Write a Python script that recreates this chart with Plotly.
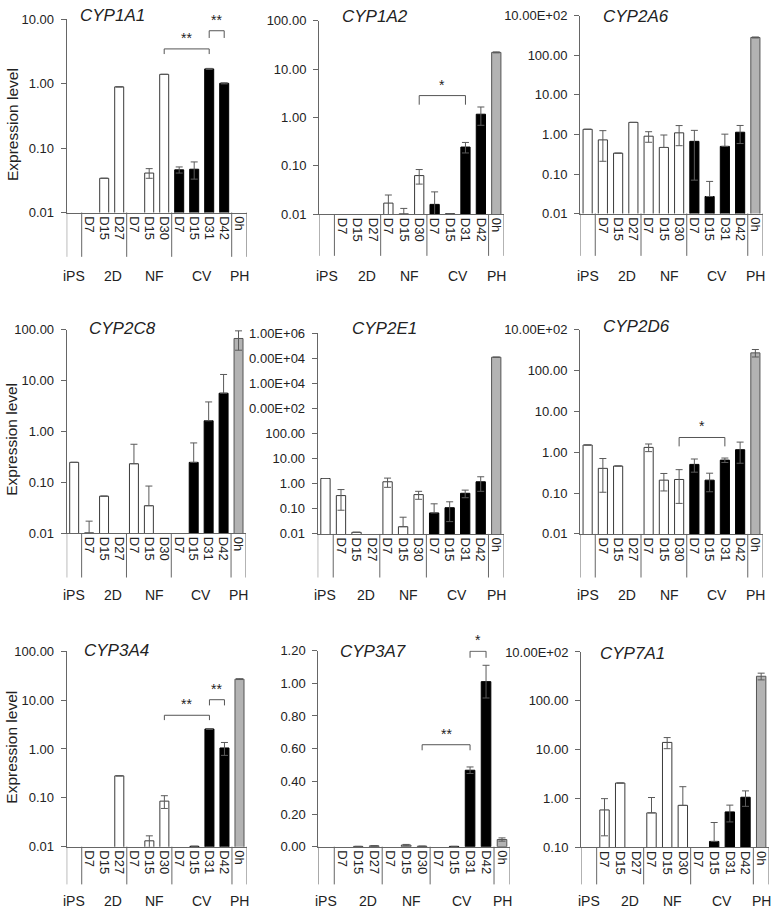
import math
import plotly.graph_objects as go

W, H = 772, 916

# ---------------- data ----------------
TICK_TEXT = ["", "D7", "D15", "D27", "D7", "D15", "D30", "D7", "D15", "D31", "D42", "0h"]
GROUP_OF_SLOT = ["iPS", "2D", "2D", "2D", "NF", "NF", "NF", "CV", "CV", "CV", "CV", "PH"]
GROUPS = ["iPS", "2D", "NF", "CV", "PH"]
GENES = ["CYP1A1", "CYP1A2", "CYP2A6", "CYP2C8", "CYP2E1", "CYP2D6", "CYP3A4", "CYP3A7", "CYP7A1"]

CYP1A1 = [None, None, 0.034, 0.89, None, 0.041, 1.39, 0.046, 0.047, 1.69, 1.01, None]
CYP1A1_SD = [0, 0, 0, 0, 0, 0.007, 0, 0.005, 0.014, 0.03, 0.02, 0]
CYP1A2 = [None, None, None, None, 0.017, 0.0102, 0.063, 0.016, 0.0102, 0.245, 1.17, 22.2]
CYP1A2_SD = [0, 0, 0, 0, 0.008, 0.003, 0.021, 0.013, 0, 0.06, 0.48, 0.5]
CYP2A6 = [1.35, 0.73, 0.336, 2.02, 0.905, 0.47, 1.1, 0.67, 0.027, 0.50, 1.14, 284]
CYP2A6_SD = [0, 0.52, 0, 0, 0.27, 0.5, 0.58, 0.6, 0.038, 0.52, 0.55, 8]
CYP2C8 = [0.248, 0.0102, 0.0536, None, 0.233, 0.0348, None, None, 0.248, 1.63, 5.69, 67.9]
CYP2C8_SD = [0, 0.0071, 0, 0, 0.33, 0.05, 0, 0, 0.35, 2.2, 7.6, 28]
CYP2E1 = [1.62, 0.338, 0.0116, None, 1.20, 0.0194, 0.37, 0.0687, 0.111, 0.418, 1.20, 111000]
CYP2E1_SD = [0, 0.25, 0, 0, 0.48, 0.027, 0.13, 0.09, 0.08, 0.14, 0.7, 0]
CYP2D6 = [1.51, 0.405, 0.461, None, 1.32, 0.208, 0.216, 0.506, 0.208, 0.644, 1.16, 274]
CYP2D6_SD = [0, 0.3, 0, 0, 0.28, 0.095, 0.16, 0.18, 0.1, 0.08, 0.62, 57]
CYP3A4 = [None, None, None, 0.282, None, 0.0132, 0.0857, None, 0.0102, 2.57, 1.05, 26.9]
CYP3A4_SD = [0, 0, 0, 0, 0, 0.0035, 0.025, 0, 0, 0.05, 0.31, 0.5]
CYP3A7 = [None, None, 0.002, 0.005, None, 0.01, 0.003, None, 0.002, 0.468, 1.01, 0.044]
CYP3A7_SD = [0, 0, 0, 0.002, 0, 0.004, 0, 0, 0, 0.02, 0.1, 0.01]
CYP7A1 = [None, 0.582, 2.07, None, 0.507, 14.06, 0.723, None, 0.132, 0.531, 1.06, 318]
CYP7A1_SD = [0, 0.41, 0, 0, 0.54, 3.6, 1.02, 0, 0.19, 0.2, 0.37, 50]

VALUES = [CYP1A1, CYP1A2, CYP2A6, CYP2C8, CYP2E1, CYP2D6, CYP3A4, CYP3A7, CYP7A1]
SDS = [CYP1A1_SD, CYP1A2_SD, CYP2A6_SD, CYP2C8_SD, CYP2E1_SD, CYP2D6_SD, CYP3A4_SD, CYP3A7_SD, CYP7A1_SD]

LOG_TICKS = [0.01, 0.1, 1, 10, 100, 1000, 1e4, 1e5, 1e6]
LOG_TEXT = ["0.01", "0.10", "1.00", "10.00", "100.00", "10.00E+02"]
E1_TEXT = ["0.01", "0.10", "1.00", "10.00", "100.00", "0.00E+02", "1.00E+04", "0.00E+04", "1.00E+06"]
LIN_TICKS = [0, 0.2, 0.4, 0.6, 0.8, 1.0, 1.2]
LIN_TEXT = ["0.00", "0.20", "0.40", "0.60", "0.80", "1.00", "1.20"]
# y-axis: (type, min, max) in decades for log
Y_SCALES = [("log", -2, 1), ("log", -2, 2), ("log", -2, 3),
            ("log", -2, 2), ("log", -2, 6), ("log", -2, 3),
            ("log", -2, 2), ("linear", 0, 1.2), ("log", -1, 3)]

# significance brackets: (panel, from slot, to slot, top value, leg value, label)
BRACKETS = [
    (0, 6, 9, 3.45, 2.87, "**"),
    (0, 9, 10, 6.6, 5.1, "**"),
    (1, 6, 9, 2.84, 1.84, "*"),
    (5, 6, 9, 2.31, 1.40, "*"),
    (6, 6, 9, 4.9, 3.9, "**"),
    (6, 9, 10, 10.2, 7.8, "**"),
    (7, 6, 9, 0.624, 0.59, "**"),
    (7, 9, 10, 1.196, 1.156, "*"),
]

# ---------------- layout geometry (pixels) ----------------
# x0, x1, y_top, y_base, y_bottom_of_separators
PANELS = [
    (66.7, 246.7, 12.3, 209, 254),
    (319, 504, 14, 210.7, 253),
    (580, 763, 9, 210, 253),
    (66.7, 246, 328.3, 535, 580),
    (317.7, 504, 331.7, 535.7, 580),
    (580, 763, 328.3, 535.7, 580),
    (66.7, 247, 655, 853.7, 892),
    (318.3, 510, 654.3, 853.7, 892),
    (581, 769, 655.7, 854.3, 892),
]
TITLE_POS = [(78, 9), (340, 10), (601, 10), (87, 327), (350, 327), (601, 325), (82, 654), (338, 655), (598, 657)]
GROUP_LABEL_Y = [273, 273, 273, 598, 598, 598, 909, 909, 909]
GROUP_LABEL_X = [0, 2.6, 5.35, 8.5, 11]
SEPARATORS = [-0.5, 0.5, 3.5, 6.5, 10.5, 11.5]
YLABEL_Y = [120, 440, 753]

FILL = {"iPS": "white", "2D": "white", "NF": "white", "CV": "black", "PH": "#b3b3b3"}
EDGE = {"iPS": "#3a3a3a", "2D": "#3a3a3a", "NF": "#3a3a3a", "CV": "black", "PH": "#555555"}
AX = "#666666"
TXT = "#222222"
FONT = "Arial, Liberation Sans, sans-serif"

fig = go.Figure()
layout = dict(width=W, height=H, margin=dict(l=0, r=0, t=0, b=0),
              paper_bgcolor="white", plot_bgcolor="rgba(0,0,0,0)",
              showlegend=False, font=dict(family=FONT, color=TXT, size=13))
shapes, annotations = [], []

for k, gene in enumerate(GENES):
    n = "" if k == 0 else str(k + 1)
    xa, ya = "x" + n, "y" + n
    x0, x1, yt, yb, ybot = PANELS[k]
    vals, sds = VALUES[k], SDS[k]
    plus = [s if (v is not None and s > 0) else None for v, s in zip(vals, sds)]
    minus = [s if (v is not None and s > 0 and v - s > 0) else 0 for v, s in zip(vals, sds)]
    fig.add_trace(go.Bar(
        x=list(range(12)), y=vals, xaxis=xa, yaxis=ya, width=0.6,
        marker=dict(color=[FILL[g] for g in GROUP_OF_SLOT],
                    line=dict(color=[EDGE[g] for g in GROUP_OF_SLOT], width=1)),
        error_y=dict(type="data", symmetric=False, array=plus, arrayminus=minus,
                     color="#5a5a5a", thickness=1, width=3.5),
        hoverinfo="skip"))

    ytype, lo, hi = Y_SCALES[k]
    if ytype == "log":
        tv = [t for t in LOG_TICKS if lo - 1e-9 <= math.log10(t) <= hi + 1e-9]
        if gene == "CYP2E1":
            tt = E1_TEXT
        else:
            tt = LOG_TEXT[int(lo + 2):int(hi + 2) + 1]
        yax = dict(type="log", range=[lo, hi], tickvals=tv, ticktext=tt)
    else:
        yax = dict(type="linear", range=[lo, hi], tickvals=LIN_TICKS, ticktext=LIN_TEXT)
    yax.update(domain=[1 - yb / H, 1 - yt / H], anchor=xa, ticks="outside", ticklen=5,
               tickcolor=AX, showline=True, linecolor=AX, linewidth=1, showgrid=False,
               zeroline=False, tickfont=dict(size=13, color=TXT), ticklabelstandoff=4,
               fixedrange=True)
    xax = dict(domain=[x0 / W, x1 / W], range=[-0.5, 11.5], anchor=ya, tickmode="array",
               tickvals=list(range(12)), ticktext=TICK_TEXT, tickangle=90, ticks="",
               showline=True, linecolor=AX, linewidth=1, showgrid=False, zeroline=False,
               tickfont=dict(size=13, color=TXT), fixedrange=True)
    layout["xaxis" + n] = xax
    layout["yaxis" + n] = yax

    for sx in SEPARATORS:
        shapes.append(dict(type="line", xref=xa, yref="paper", x0=sx, x1=sx,
                           y0=1 - yb / H, y1=1 - ybot / H, line=dict(color=AX, width=1)))
    for gx, g in zip(GROUP_LABEL_X, GROUPS):
        annotations.append(dict(text=g, xref=xa, yref="paper", x=gx, y=1 - GROUP_LABEL_Y[k] / H,
                                showarrow=False, xanchor="center", yanchor="middle",
                                font=dict(size=14, color=TXT)))
    tx, ty = TITLE_POS[k]
    annotations.append(dict(text=f"<i>{gene}</i>", xref="paper", yref="paper", x=tx / W,
                            y=1 - ty / H, showarrow=False, xanchor="left", yanchor="middle",
                            font=dict(size=17, color=TXT)))

for r, yy in enumerate(YLABEL_Y):
    annotations.append(dict(text="Expression level", xref="paper", yref="paper", x=12 / W,
                            y=1 - yy / H, showarrow=False, textangle=-90, xanchor="center",
                            yanchor="middle", font=dict(size=15.5, color=TXT)))

for (k, a, b, ytop, yleg, lab) in BRACKETS:
    n = "" if k == 0 else str(k + 1)
    fig.add_trace(go.Scatter(x=[a, a, b, b], y=[yleg, ytop, ytop, yleg], mode="lines",
                             line=dict(color="#555555", width=1), xaxis="x" + n,
                             yaxis="y" + n, hoverinfo="skip", cliponaxis=False))
    ypos = math.log10(ytop) if Y_SCALES[k][0] == "log" else ytop
    annotations.append(dict(text=lab, xref="x" + n, yref="y" + n, x=(a + b) / 2, y=ypos,
                            showarrow=False, xanchor="center", yanchor="bottom", yshift=1,
                            font=dict(size=14, color=TXT)))

layout["shapes"] = shapes
layout["annotations"] = annotations
fig.update_layout(**layout)
fig.write_html("out.html", config={"displayModeBar": False, "staticPlot": True},
               post_script="document.body.style.margin='0';document.body.style.overflow='hidden';")
